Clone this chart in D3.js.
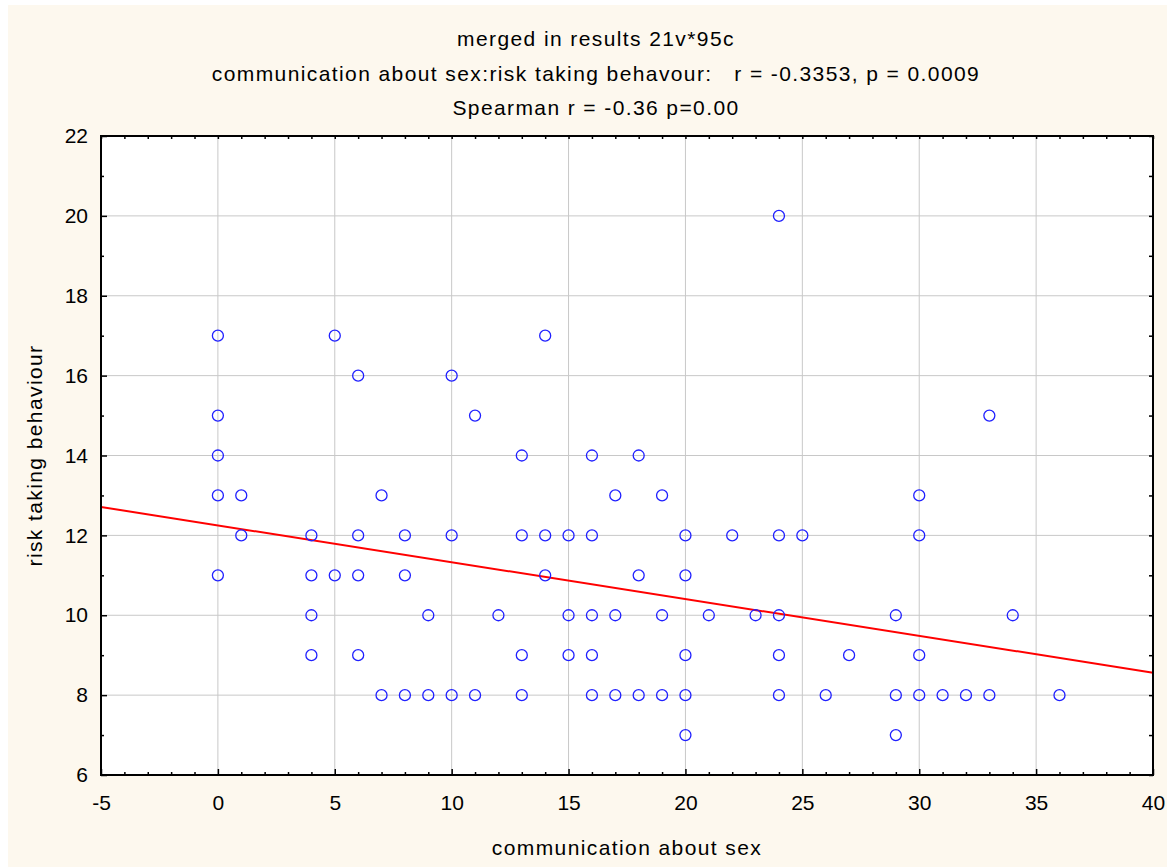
<!DOCTYPE html>
<html lang="en">
  <head>
    <meta charset="UTF-8" />
    <title>communication about sex vs risk taking behaviour</title>
    <script src="https://cdn.jsdelivr.net/npm/d3@7"></script>
    <style>
      body { margin: 0; background: #fff; }
      svg text { font-family: "Liberation Sans", Arial, sans-serif; fill: #000; }
      .title, .axis-label { font-size: 21px; letter-spacing: 1.4px; white-space: pre; }
      .tick text { font-size: 21px; }
    </style>
  </head>
  <body>
    <div id="chart"></div>
    <script>
      // values (overlapping cases show as one circle)
      const commX = [
        0, 0, 0, 0, 0, 1, 1, 4, 4, 4, 4, 5, 5, 6, 6, 6, 6, 7, 7, 8, 8, 8,
        9, 9, 10, 10, 10, 11, 11, 12, 13, 13, 13, 13, 14, 14, 14, 15, 15, 15,
        16, 16, 16, 16, 16, 17, 17, 17, 18, 18, 18, 19, 19, 19,
        20, 20, 20, 20, 20, 21, 22, 23, 24, 24, 24, 24, 24, 25, 26, 27,
        29, 29, 29, 30, 30, 30, 30, 31, 32, 33, 33, 34, 36
      ];
      const riskY = [
        17, 15, 14, 13, 11, 13, 12, 12, 11, 10, 9, 17, 11, 16, 12, 11, 9, 13, 8, 12, 11, 8,
        10, 8, 16, 12, 8, 15, 8, 10, 14, 12, 9, 8, 17, 12, 11, 12, 10, 9,
        14, 12, 10, 9, 8, 13, 10, 8, 14, 11, 8, 13, 10, 8,
        12, 11, 9, 8, 7, 10, 12, 10, 20, 12, 10, 9, 8, 12, 8, 9,
        10, 8, 7, 13, 12, 9, 8, 8, 8, 15, 8, 10, 8
      ];
      // fitted line as printed: risk = a + b * comm
      const fitIntercept = 12.25;
      const fitSlope = -0.0922;

      const xTicks = [-5, 0, 5, 10, 15, 20, 25, 30, 35, 40];
      const yTicks = [6, 8, 10, 12, 14, 16, 18, 20, 22];
      const xMinor = d3.range(-5, 41, 1);
      const yMinor = d3.range(6, 23, 1);

      const titleLines = [
        "merged in results 21v*95c",
        "communication about sex:risk taking behavour:   r = -0.3353, p = 0.0009",
        "Spearman r = -0.36 p=0.00"
      ];

      const width = 1167, height = 867;
      const margin = { top: 136, right: 14, bottom: 92, left: 101 };
      const plotW = width - margin.left - margin.right;
      const plotH = height - margin.top - margin.bottom;

      const svg = d3.select("#chart").append("svg")
        .attr("width", width)
        .attr("height", height);

      svg.append("rect")
        .attr("x", 8).attr("y", 5)
        .attr("width", width - 8).attr("height", height - 5)
        .attr("fill", "#fdf8ee");

      const x = d3.scaleLinear().domain([-5, 40]).range([0, plotW]);
      const y = d3.scaleLinear().domain([6, 22]).range([plotH, 0]);

      const g = svg.append("g")
        .attr("transform", `translate(${margin.left},${margin.top})`);

      g.append("rect")
        .attr("width", plotW).attr("height", plotH)
        .attr("fill", "#fff");

      // grid
      g.append("g").selectAll("line")
        .data(xTicks.slice(1, -1))
        .join("line")
          .attr("x1", d => x(d)).attr("x2", d => x(d))
          .attr("y1", 0).attr("y2", plotH)
          .attr("stroke", "#c8c8c8").attr("stroke-width", 1);
      g.append("g").selectAll("line")
        .data(yTicks.slice(1, -1))
        .join("line")
          .attr("x1", 0).attr("x2", plotW)
          .attr("y1", d => y(d)).attr("y2", d => y(d))
          .attr("stroke", "#c8c8c8").attr("stroke-width", 1);

      // regression line
      const xd = x.domain();
      g.append("line")
        .attr("x1", x(xd[0])).attr("y1", y(fitIntercept + fitSlope * xd[0]))
        .attr("x2", x(xd[1])).attr("y2", y(fitIntercept + fitSlope * xd[1]))
        .attr("stroke", "#ff0000").attr("stroke-width", 2);

      // points
      g.append("g").selectAll("circle")
        .data(commX.map((v, i) => [v, riskY[i]]))
        .join("circle")
          .attr("cx", d => x(d[0]))
          .attr("cy", d => y(d[1]))
          .attr("r", 5.5)
          .attr("fill", "none")
          .attr("stroke", "#2020ff")
          .attr("stroke-width", 1.3);

      // axes, ticks point inward
      function styleAxis(sel) {
        sel.select(".domain").remove();
        sel.selectAll(".tick line").attr("stroke", "#000").attr("stroke-width", 1.5);
      }
      const plain = d => String(d); // hyphen minus like the original

      g.append("g").attr("transform", `translate(0,${plotH})`)
        .call(d3.axisBottom(x).tickValues(xTicks).tickSize(-6).tickPadding(20).tickFormat(plain))
        .call(styleAxis);
      g.append("g").attr("transform", `translate(0,${plotH})`)
        .call(d3.axisBottom(x).tickValues(xMinor.filter(v => !xTicks.includes(v))).tickSize(-3).tickFormat(""))
        .call(styleAxis);
      g.append("g")
        .call(d3.axisTop(x).tickValues(xMinor).tickSize(-3).tickFormat(""))
        .call(styleAxis);
      g.append("g")
        .call(d3.axisLeft(y).tickValues(yTicks).tickSize(-6).tickPadding(13).tickFormat(plain))
        .call(styleAxis);
      g.append("g")
        .call(d3.axisLeft(y).tickValues(yMinor.filter(v => !yTicks.includes(v))).tickSize(-3).tickFormat(""))
        .call(styleAxis);
      g.append("g").attr("transform", `translate(${plotW},0)`)
        .call(d3.axisRight(y).tickValues(yMinor).tickSize(-4).tickFormat(""))
        .call(styleAxis);

      g.selectAll(".tick text").attr("fill", "#000");

      // frame
      g.append("rect")
        .attr("width", plotW).attr("height", plotH)
        .attr("fill", "none")
        .attr("stroke", "#000").attr("stroke-width", 2);

      // titles
      svg.append("g").selectAll("text")
        .data(titleLines)
        .join("text")
          .attr("class", "title")
          .attr("xml:space", "preserve")
          .attr("x", 596)
          .attr("y", (d, i) => 46 + i * 34.5)
          .attr("text-anchor", "middle")
          .text(d => d);

      svg.append("text")
        .attr("class", "axis-label")
        .attr("x", margin.left + plotW / 2)
        .attr("y", 855)
        .attr("text-anchor", "middle")
        .text("communication about sex");

      svg.append("text")
        .attr("class", "axis-label")
        .attr("transform", `translate(42,${margin.top + plotH / 2}) rotate(-90)`)
        .attr("text-anchor", "middle")
        .text("risk taking behaviour");
    </script>
  </body>
</html>
